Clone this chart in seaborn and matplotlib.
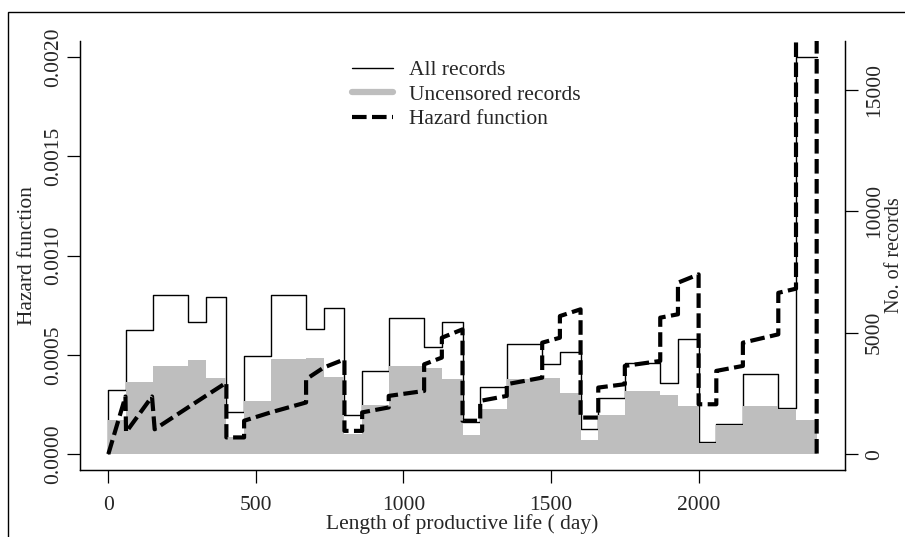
import seaborn as sns
import matplotlib.pyplot as plt
from matplotlib.lines import Line2D
from matplotlib.patches import Rectangle

# bin edges (days) and record counts per bin
edges = [0, 60, 150, 270, 330, 400, 460, 550, 670, 730, 800, 860, 950, 1070, 1130, 1200,
         1260, 1350, 1470, 1530, 1600, 1660, 1750, 1870, 1930, 2000, 2060, 2150, 2270, 2330, 2400]
all_records = [2630, 5110, 6535, 5440, 6470, 1750, 4040, 6535, 5160, 6030, 1590, 3425, 5590, 4410, 5440,
               1340, 2770, 4550, 3690, 4220, 1015, 2300, 3740, 2930, 4730, 505, 1230, 3315, 1900, 16350]
uncensored = [1400, 2950, 3630, 3880, 3150, 690, 2190, 3900, 3950, 3180, 820, 2030, 3630, 3560, 3080,
              795, 1850, 3080, 3150, 2510, 590, 1600, 2580, 2440, 1960, 450, 1190, 1960, 1860, 1400]

# hazard function (step-like, jumps at bin edges)
hazard_day = [0, 58, 60, 148, 157, 270, 330, 400, 400, 460, 460, 550, 670, 670, 730, 800, 800, 860, 860,
              950, 950, 1070, 1070, 1130, 1130, 1200, 1200, 1260, 1260, 1350, 1350, 1470, 1470, 1530,
              1530, 1600, 1600, 1660, 1660, 1750, 1750, 1870, 1870, 1930, 1930, 2000, 2000, 2060, 2060,
              2150, 2150, 2270, 2270, 2330, 2330, 2400, 2400]
hazard = [0, 0.00029, 0.00011, 0.00029, 0.000125, 0.000235, 0.000293, 0.00036, 0.000084,
          0.000084, 0.000168, 0.00021, 0.00026, 0.000377, 0.000436, 0.000477, 0.000117, 0.000117, 0.00021,
          0.000235, 0.000293, 0.000318, 0.000452, 0.000486, 0.000586, 0.000628, 0.000168, 0.000168, 0.000268,
          0.000293, 0.000352, 0.000385, 0.000561, 0.000586, 0.000695, 0.000729, 0.000184, 0.000184, 0.000335,
          0.000352, 0.000444, 0.000469, 0.000687, 0.000704, 0.000863, 0.000905, 0.000251, 0.000251, 0.000419,
          0.000444, 0.000561, 0.000603, 0.000812, 0.000833, 0.0025, 0.0025, 0]

sns.set_style('ticks')
plt.rcParams['font.family'] = ['Liberation Serif', 'DejaVu Serif']
plt.rcParams['font.size'] = 15.5

fig = plt.figure(figsize=(9.05, 5.37), dpi=100)
ax_h = fig.add_axes([80/905, 1-470/537, 765/905, 429/537])
ax_n = ax_h.twinx()
ax_h.set_zorder(ax_n.get_zorder() + 1)
ax_h.patch.set_visible(False)

# record counts on the right axis
sns.histplot(x=edges[:-1], weights=all_records, bins=edges, element='step', fill=False,
             color='black', linewidth=1, ax=ax_n, zorder=1)
ax_n.vlines(edges[0], 0, all_records[0], color='black', linewidth=1, zorder=1)
sns.histplot(x=edges[:-1], weights=uncensored, bins=edges, element='step', fill=True,
             color='#BEBEBE', alpha=1, linewidth=0, ax=ax_n, zorder=2)

# hazard on the left axis
sns.lineplot(x=hazard_day, y=hazard, estimator=None, sort=False, color='black',
             linewidth=3, ax=ax_h)
ax_h.lines[0].set_dashes((3.5, 1.3))

ax_h.set_xlim(-96, 2496)
ax_h.set_ylim(-0.00008, 0.00208)
ax_n.set_ylim(-654, 17004)
ax_h.set_xticks([0, 500, 1000, 1500, 2000])
ax_h.set_yticks([0, 0.0005, 0.001, 0.0015, 0.002])
ax_h.set_yticklabels(['0.0000', '0.0005', '0.0010', '0.0015', '0.0020'], rotation=90, va='center')
ax_n.set_yticks([0, 5000, 10000, 15000])
ax_n.set_yticklabels(['0', '5000', '10000', '15000'], rotation=90, va='center')

ax_h.set_xlabel('Length of productive life ( day)', labelpad=0)
ax_h.set_ylabel('Hazard function', labelpad=5)
ax_n.set_ylabel('No. of records', labelpad=1, fontsize=14.5)

for a in (ax_h, ax_n):
    a.spines['top'].set_visible(False)
    for s in a.spines.values():
        s.set_linewidth(0.9)
        s.set_color('black')
    a.tick_params(direction='out', length=9.4, width=0.9, color='black', labelsize=15.5)
ax_h.tick_params(axis='x', pad=9)
ax_h.tick_params(axis='y', pad=3)
ax_n.tick_params(axis='y', pad=5)

handles = [Line2D([], [], color='black', lw=1),
           Line2D([], [], color='#BEBEBE', lw=4.5, solid_capstyle='round'),
           Line2D([], [], color='black', lw=3, dashes=(3.5, 1.3))]
ax_h.legend(handles, ['All records', 'Uncensored records', 'Hazard function'],
            loc='upper left', bbox_to_anchor=(352/905, 1-60/537), bbox_transform=fig.transFigure,
            frameon=False, borderpad=0, borderaxespad=0, handlelength=1.9, handletextpad=0.74,
            labelspacing=0.21, fontsize=15.5)

# outer frame of the original figure
fig.patches.append(Rectangle((8/905, -0.1), 1.2, 1.1 - 12/537, transform=fig.transFigure,
                             fill=False, edgecolor='black', linewidth=1, clip_on=False))

plt.savefig('out.png', dpi=100)
plt.close()
